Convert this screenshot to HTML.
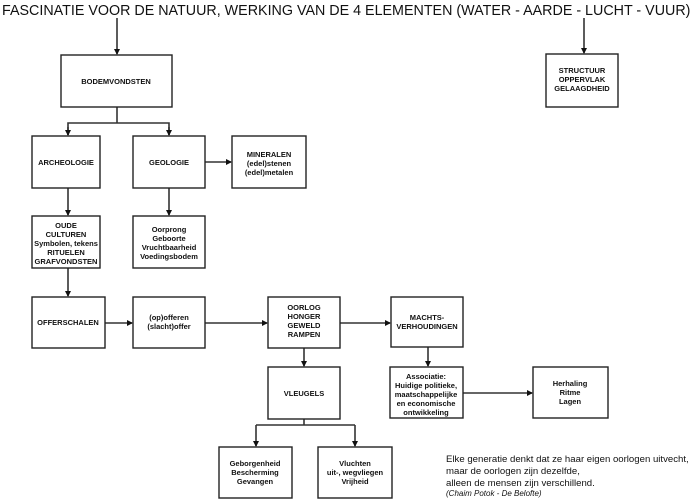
<!DOCTYPE html>
<html><head><meta charset="utf-8"><style>
html,body{margin:0;padding:0;background:#fff;}
svg{display:block;}
.b{fill:#fff;stroke:#222;stroke-width:1.4;}
.l{stroke:#333;stroke-width:1.6;fill:none;}
.t{font-family:"Liberation Sans",Arial,sans-serif;font-size:7.5px;font-weight:bold;fill:#111;text-anchor:middle;}
.q{font-family:"Liberation Sans",Arial,sans-serif;font-size:9.6px;fill:#111;}
</style></head><body>
<svg width="700" height="500" viewBox="0 0 700 500" xmlns="http://www.w3.org/2000/svg">
<defs><marker id="a" markerWidth="6" markerHeight="6" refX="5" refY="3" orient="auto" markerUnits="userSpaceOnUse"><path d="M0,0 L6,3 L0,6 z" fill="#111"/></marker></defs>
<text x="2" y="15" style="font-family:'Liberation Sans',Arial,sans-serif;font-size:14.3px;fill:#111">FASCINATIE VOOR DE NATUUR, WERKING VAN DE 4 ELEMENTEN (WATER - AARDE - LUCHT - VUUR)</text>

<!-- lines -->
<line class="l" x1="117" y1="18" x2="117" y2="54" marker-end="url(#a)"/>
<line class="l" x1="584" y1="18" x2="584" y2="53" marker-end="url(#a)"/>
<line class="l" x1="117" y1="107" x2="117" y2="123"/>
<polyline class="l" points="68,135 68,123 169,123 169,135" />
<line class="l" x1="68" y1="127" x2="68" y2="135" marker-end="url(#a)"/>
<line class="l" x1="169" y1="127" x2="169" y2="135" marker-end="url(#a)"/>
<line class="l" x1="205" y1="162" x2="231" y2="162" marker-end="url(#a)"/>
<line class="l" x1="68" y1="188" x2="68" y2="215" marker-end="url(#a)"/>
<line class="l" x1="169" y1="188" x2="169" y2="215" marker-end="url(#a)"/>
<line class="l" x1="68" y1="268" x2="68" y2="296" marker-end="url(#a)"/>
<line class="l" x1="105" y1="323" x2="132" y2="323" marker-end="url(#a)"/>
<line class="l" x1="205" y1="323" x2="267" y2="323" marker-end="url(#a)"/>
<line class="l" x1="340" y1="323" x2="390" y2="323" marker-end="url(#a)"/>
<line class="l" x1="304" y1="348" x2="304" y2="366" marker-end="url(#a)"/>
<line class="l" x1="428" y1="347" x2="428" y2="366" marker-end="url(#a)"/>
<line class="l" x1="463" y1="393" x2="532" y2="393" marker-end="url(#a)"/>
<line class="l" x1="304" y1="419" x2="304" y2="425"/>
<polyline class="l" points="256,425 355,425"/>
<line class="l" x1="256" y1="425" x2="256" y2="446" marker-end="url(#a)"/>
<line class="l" x1="355" y1="425" x2="355" y2="446" marker-end="url(#a)"/>

<!-- boxes -->
<rect class="b" x="61" y="55" width="111" height="52"/>
<text class="t" x="116" y="84">BODEMVONDSTEN</text>
<rect class="b" x="546" y="54" width="72" height="53"/>
<text class="t" x="582" y="73">STRUCTUUR</text><text class="t" x="582" y="82">OPPERVLAK</text><text class="t" x="582" y="91">GELAAGDHEID</text>

<rect class="b" x="32" y="136" width="68" height="52"/>
<text class="t" x="66" y="165">ARCHEOLOGIE</text>
<rect class="b" x="133" y="136" width="72" height="52"/>
<text class="t" x="169" y="165">GEOLOGIE</text>
<rect class="b" x="232" y="136" width="74" height="52"/>
<text class="t" x="269" y="157">MINERALEN</text><text class="t" x="269" y="166">(edel)stenen</text><text class="t" x="269" y="175">(edel)metalen</text>

<rect class="b" x="32" y="216" width="68" height="52"/>
<text class="t" x="66" y="228">OUDE</text><text class="t" x="66" y="237">CULTUREN</text><text class="t" x="66" y="246">Symbolen, tekens</text><text class="t" x="66" y="255">RITUELEN</text><text class="t" x="66" y="264">GRAFVONDSTEN</text>
<rect class="b" x="133" y="216" width="72" height="52"/>
<text class="t" x="169" y="232">Oorprong</text><text class="t" x="169" y="241">Geboorte</text><text class="t" x="169" y="250">Vruchtbaarheid</text><text class="t" x="169" y="259">Voedingsbodem</text>

<rect class="b" x="32" y="297" width="73" height="51"/>
<text class="t" x="68" y="325">OFFERSCHALEN</text>
<rect class="b" x="133" y="297" width="72" height="51"/>
<text class="t" x="169" y="320">(op)offeren</text><text class="t" x="169" y="329">(slacht)offer</text>
<rect class="b" x="268" y="297" width="72" height="51"/>
<text class="t" x="304" y="310">OORLOG</text><text class="t" x="304" y="319">HONGER</text><text class="t" x="304" y="328">GEWELD</text><text class="t" x="304" y="337">RAMPEN</text>
<rect class="b" x="391" y="297" width="72" height="50"/>
<text class="t" x="427" y="320">MACHTS-</text><text class="t" x="427" y="329">VERHOUDINGEN</text>

<rect class="b" x="268" y="367" width="72" height="52"/>
<text class="t" x="304" y="396">VLEUGELS</text>
<rect class="b" x="390" y="367" width="73" height="51"/>
<text class="t" x="426" y="379">Associatie:</text><text class="t" x="426" y="388">Huidige politieke,</text><text class="t" x="426" y="397">maatschappelijke</text><text class="t" x="426" y="406">en economische</text><text class="t" x="426" y="415">ontwikkeling</text>
<rect class="b" x="533" y="367" width="75" height="51"/>
<text class="t" x="570" y="386">Herhaling</text><text class="t" x="570" y="395">Ritme</text><text class="t" x="570" y="404">Lagen</text>

<rect class="b" x="219" y="447" width="73" height="51"/>
<text class="t" x="255" y="466">Geborgenheid</text><text class="t" x="255" y="475">Bescherming</text><text class="t" x="255" y="484">Gevangen</text>
<rect class="b" x="318" y="447" width="74" height="51"/>
<text class="t" x="355" y="466">Vluchten</text><text class="t" x="355" y="475">uit-, wegvliegen</text><text class="t" x="355" y="484">Vrijheid</text>

<text class="q" x="446" y="462">Elke generatie denkt dat ze haar eigen oorlogen uitvecht,</text>
<text class="q" x="446" y="474">maar de oorlogen zijn dezelfde,</text>
<text class="q" x="446" y="486">alleen de mensen zijn verschillend.</text>
<text class="q" x="446" y="496" style="font-size:8px;font-style:italic">(Chaim Potok - De Belofte)</text>
</svg>
</body></html>
